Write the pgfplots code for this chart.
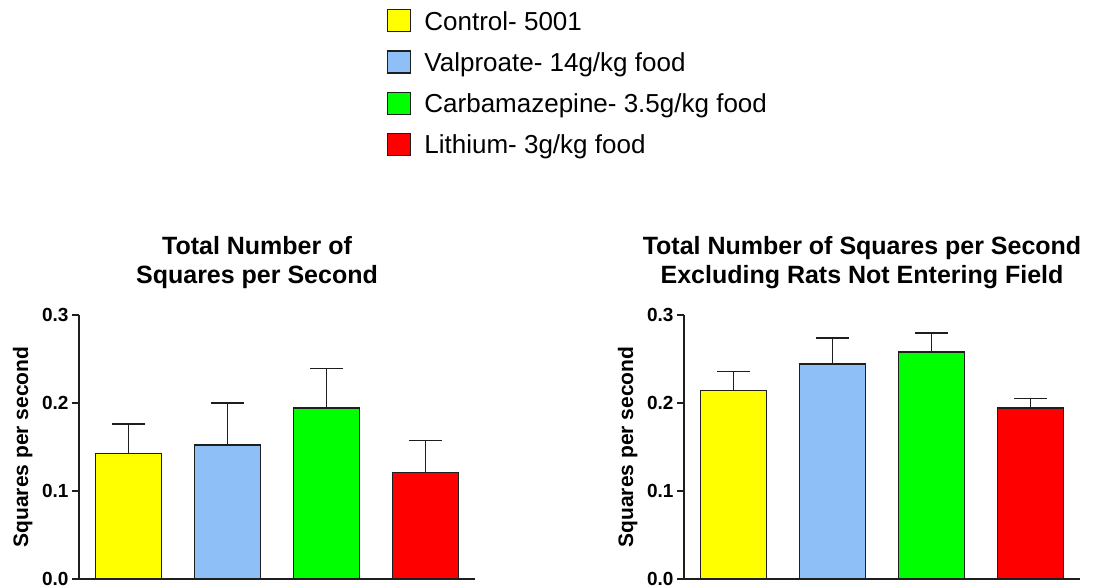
\documentclass[border=0pt]{standalone}
\usepackage{fontspec}
\setmainfont{Liberation Sans}
\usepackage{pgfplots}
\pgfplotsset{compat=1.18}
\definecolor{cyel}{RGB}{255,255,0}
\definecolor{cblu}{RGB}{143,191,247}
\definecolor{cgrn}{RGB}{0,255,0}
\definecolor{cred}{RGB}{255,0,0}
\definecolor{cdk}{RGB}{30,30,30}

\pgfplotsset{
 panel/.style={
  scale only axis, width=396pt, height=264pt,
  xmin=0.5, xmax=4.5, ymin=0, ymax=0.3,
  axis x line*=bottom, axis y line*=left,
  axis line style={line width=1.6pt, cdk},
  xtick=\empty,
  ytick={0,0.1,0.2,0.3},
  yticklabels={\textbf{0.0},\textbf{0.1},\textbf{0.2},\textbf{0.3}},
  tick align=outside, major tick length=7pt,
  tick style={line width=1.6pt, cdk},
  yticklabel style={font=\fontsize{19}{19}\selectfont\bfseries},
  ylabel={Squares per second},
  ylabel style={at={(axis description cs:-0.142,0.5)}, anchor=center, font=\fontsize{21}{21}\selectfont\bfseries},
  title style={at={(0.5,1)}, anchor=south, align=center, inner sep=0pt, yshift=20pt, xshift=-20pt, font=\fontsize{25}{29}\selectfont\bfseries},
 },
 bar/.style={ybar, bar shift=0pt, bar width=66pt, draw=cdk, line width=1.6pt, fill=#1,
   error bars/.cd, y dir=plus, y explicit,
   error bar style={line width=1.6pt, cdk},
   error mark options={rotate=90, line width=1.6pt, cdk, mark size=16.5pt}},
}

\begin{document}
\begin{tikzpicture}
\path[use as bounding box] (0,0) rectangle (1094pt,588pt);

\begin{axis}[panel, at={(79pt,9pt)}, anchor=south west,
  title={Total Number of\\Squares per Second},
  legend style={at={(rel axis cs:0.7778,2.159)}, anchor=north west, draw=none, fill=none,
    inner sep=0pt, row sep=18pt, column sep=13pt,
    font=\fontsize{26}{26}\selectfont,
    nodes={inner sep=0pt, text height=19pt, text depth=0pt}},
  legend cell align=left,
  legend image code/.code={\draw[#1, line width=1.2pt] (0pt,-11pt) rectangle (23pt,11pt);},
]
\addplot[bar=cyel] coordinates {(1,0.1424) +- (0,0.0334)};
\addplot[bar=cblu] coordinates {(2,0.1523) +- (0,0.0480)};
\addplot[bar=cgrn] coordinates {(3,0.1940) +- (0,0.0450)};
\addplot[bar=cred] coordinates {(4,0.1208) +- (0,0.0364)};
\legend{Control- 5001, Valproate- 14g/kg food, Carbamazepine- 3.5g/kg food, Lithium- 3g/kg food}
\end{axis}

\begin{axis}[panel, at={(684pt,9pt)}, anchor=south west,
  title={Total Number of Squares per Second\\Excluding Rats Not Entering Field},
]
\addplot[bar=cyel] coordinates {(1,0.2140) +- (0,0.0220)};
\addplot[bar=cblu] coordinates {(2,0.2440) +- (0,0.0302)};
\addplot[bar=cgrn] coordinates {(3,0.2580) +- (0,0.0215)};
\addplot[bar=cred] coordinates {(4,0.1940) +- (0,0.0110)};
\end{axis}
\end{tikzpicture}
\end{document}
